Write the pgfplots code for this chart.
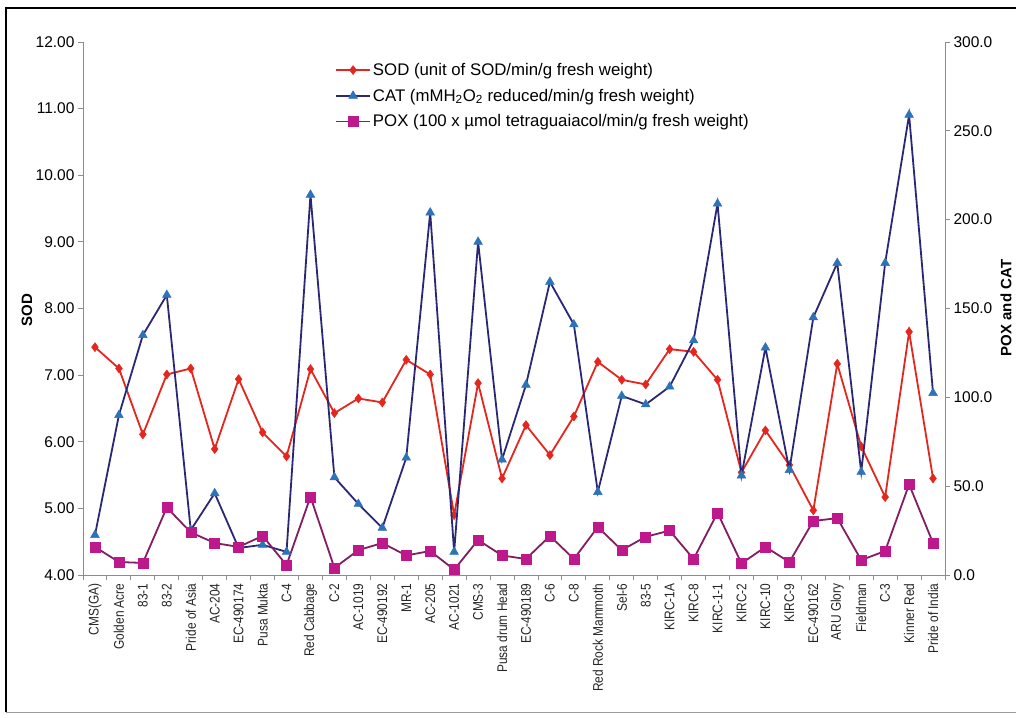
\documentclass[border=0pt]{standalone}
\usepackage{pgfplots}
\pgfplotsset{compat=1.18}
\usepackage{pgfplotstable}
\usepackage{fontspec}
\setmainfont{Liberation Sans}
\newfontfamily\narrowfont[FakeStretch=0.85]{Liberation Sans}
\definecolor{sodred}{RGB}{228,38,30}
\definecolor{catline}{RGB}{42,40,118}
\definecolor{catmark}{RGB}{45,115,185}
\definecolor{poxline}{RGB}{130,30,95}
\definecolor{poxmark}{RGB}{190,25,140}
\pgfplotstableread{
idx sod cat pox
0 7.42 22.5 15.8
1 7.10 90 7.3
2 6.11 135 6.8
3 7.01 157.6 38
4 7.10 25.3 24
5 5.89 46 18
6 6.94 15.2 15.8
7 6.14 17 22
8 5.78 13 5.6
9 7.09 214 44
10 6.43 55 4
11 6.65 40 14
12 6.59 26.5 18
13 7.23 66 11
14 7.01 204 13.5
15 4.90 13 3
16 6.88 187.5 19.7
17 5.45 65 11
18 6.25 107 9
19 5.80 165 22
20 6.38 141 9
21 7.20 46.7 27
22 6.93 100.8 14
23 6.86 96 21.5
24 7.39 106 25
25 7.35 132 9
26 6.93 209 35
27 5.54 56 6.5
28 6.17 128 15.8
29 5.65 59 7.3
30 4.97 145 30.4
31 7.17 175.6 32
32 5.93 58 8.4
33 5.17 175.6 13.5
34 7.65 259 51
35 5.45 102.4 18
}\datatable
\pgfplotsset{
  common/.style={
    at={(83pt,142pt)}, anchor=south west, scale only axis,
    width=862pt, height=533pt,
    xmin=-0.5, xmax=35.5,
    axis line style={black!45, line width=0.9pt},
    tick style={black!45, line width=0.9pt},
    major tick length=5pt, minor tick length=5pt,
    tick align=outside,
    /pgf/number format/assume math mode=true,
    y tick label style={font=\fontsize{15.5}{15.5}\selectfont, black},
  },
}
\begin{document}
\begin{tikzpicture}[x=1pt,y=1pt]
\useasboundingbox (0,0) rectangle (1016,717);
\clip (0,0) rectangle (1016,717);
\fill[white] (0,0) rectangle (1016,717);
\draw[black, line width=2.2pt] (1040,709) -- (6,709) -- (6,5);
\draw[black!40, line width=0.8pt] (6,5) -- (1040,5);
\begin{axis}[common,
  ymin=4, ymax=12,
  axis x line*=bottom, axis y line*=left,
  ytick={4,5,...,12},
  yticklabel style={/pgf/number format/.cd, fixed, fixed zerofill, precision=2},
  xtick={0,...,35},
  xticklabels={CMS(GA),Golden Acre,83-1,83-2,Pride of Asia,AC-204,EC-490174,Pusa Mukta,C-4,Red Cabbage,C-2,AC-1019,EC-490192,MR-1,AC-205,AC-1021,CMS-3,Pusa drum Head,EC-490189,C-6,C-8,Red Rock Mammoth,Sel-6,83-5,KIRC-1A,KIRC-8,KIRC-1-1,KIRC-2,KIRC-10,KIRC-9,EC-490162,ARU Glory,Fieldman,C-3,Kinner Red,Pride of India},
  major x tick style={draw=none},
  minor xtick={-0.5,0.5,...,35.5},
  x tick label style={rotate=90, anchor=east, font=\narrowfont\fontsize{14}{14}\selectfont, black!85},
  legend cell align=left,
  legend style={at={(0.29,0.968)}, anchor=north west, draw=none, fill=white,
    font=\fontsize{16.8}{16.8}\selectfont, row sep=8pt, inner sep=2pt},
  legend image code/.code={\draw[mark repeat=2,mark phase=2,#1] plot coordinates {(0pt,0pt)(17pt,0pt)(34pt,0pt)};},
]
\addplot[sodred, line width=1.8pt, mark=diamond*, mark size=4.5pt, mark options={fill=sodred, draw=sodred, line width=0.5pt}] table[x=idx,y=sod]{\datatable};
\addlegendentry{SOD (unit of SOD/min/g fresh weight)}
\addlegendimage{catline, line width=1.8pt, mark=triangle*, mark size=5pt, mark options={fill=catmark, draw=catmark, line width=0.5pt}}
\addlegendentry{CAT (mMH\textsubscript{2}O\textsubscript{2} reduced/min/g fresh weight)}
\addlegendimage{poxline, line width=1.8pt, mark=square*, mark size=5pt, mark options={fill=poxmark, draw=poxmark, line width=0.5pt}}
\addlegendentry{POX (100 x µmol tetraguaiacol/min/g fresh weight)}
\end{axis}
\begin{axis}[common,
  ymin=0, ymax=300,
  axis x line=none, axis y line*=right,
  ytick={0,50,...,300},
  yticklabel style={/pgf/number format/.cd, fixed, fixed zerofill, precision=1},
]
\addplot[catline, line width=1.8pt, mark=triangle*, mark size=5pt, mark options={fill=catmark, draw=catmark, line width=0.5pt}] table[x=idx,y=cat]{\datatable};
\addplot[poxline, line width=1.8pt, mark=square*, mark size=5pt, mark options={fill=poxmark, draw=poxmark, line width=0.5pt}] table[x=idx,y=pox]{\datatable};
\end{axis}
\node[rotate=90, font=\bfseries\fontsize{15}{15}\selectfont] at (27,407) {SOD};
\node[rotate=90, font=\bfseries\fontsize{15}{15}\selectfont] at (1006,409) {POX and CAT};
\end{tikzpicture}
\end{document}
